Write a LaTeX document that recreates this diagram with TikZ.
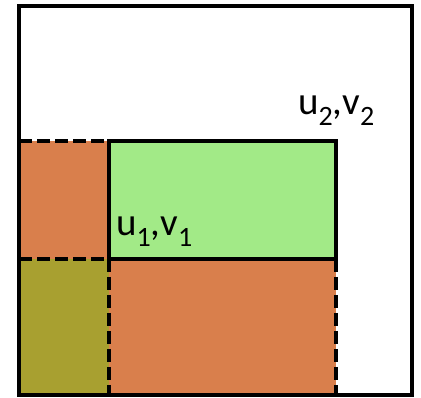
\documentclass[tikz,border=0pt]{standalone}
\usepackage{fontspec}
\setmainfont{Carlito}
\definecolor{orangeC}{HTML}{D97F4C}
\definecolor{oliveC}{HTML}{A8A030}
\definecolor{greenC}{HTML}{A2EA87}
\newcommand{\subsc}[1]{\raisebox{-0.28em}{\fontsize{28}{28}\selectfont #1}}
\tikzset{
  solidline/.style={line width=4.6pt, draw=black},
  dashline/.style={line width=4.6pt, draw=black, dash pattern=on 13pt off 5pt},
  lbl/.style={font=\fontsize{39}{39}\selectfont, inner sep=0pt, anchor=base west}
}
\begin{document}
\begin{tikzpicture}[x=1pt,y=-1pt]
\useasboundingbox (0,0) rectangle (421,398);
% fills
\fill[orangeC] (19,141) rectangle (109,259);
\fill[oliveC] (19,259) rectangle (109,395);
\fill[orangeC] (109,259) rectangle (336,395);
\fill[greenC] (109,141) rectangle (336,259);
% dashed lines
\draw[dashline] (19,141) -- (109,141);
\draw[dashline] (19,259) -- (109,259);
\draw[dashline] (109,259) -- (109,395);
\draw[dashline] (336,259) -- (336,395);
% green rectangle border
\draw[solidline] (109,141) rectangle (336,259);
% outer square
\draw[solidline] (19,6) rectangle (412,395);
% labels
\node[lbl] (l2) at (298,115) {u\subsc{2},v\subsc{2}};
\node[lbl] (l1) at (116,236) {u\subsc{1},v\subsc{1}};
\end{tikzpicture}
\end{document}
